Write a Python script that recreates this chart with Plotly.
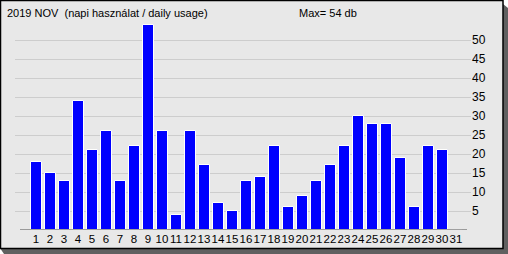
import plotly.graph_objects as go

days = list(range(1, 32))
usage = [18, 15, 13, 34, 21, 26, 13, 22, 54, 26, 4, 26, 17, 7, 5, 13, 14, 22, 6, 9,
         13, 17, 22, 30, 28, 28, 19, 6, 22, 21, 0]
y_ticks = [5, 10, 15, 20, 25, 30, 35, 40, 45, 50]
title_text = "2019 NOV\u00a0\u00a0(napi használat / daily usage)"
max_text = "Max= 54 db"

W, H = 508, 254
L, R, T, B = 15, 37, 20, 24
PW, PH = W - L - R, H - T - B

def px(x):
    return (x - L) / PW

def py(y):
    return (H - B - y) / PH

font = dict(family="Liberation Sans, Arial, sans-serif", size=12, color="#000000")
xfont = dict(family="Liberation Sans, Arial, sans-serif", size=11.5, color="#000000")
tfont = dict(family="Liberation Sans, Arial, sans-serif", size=11, color="#000000")

fig = go.Figure()
fig.add_trace(go.Bar(
    x=days, y=usage, width=11 / 14,
    marker=dict(color="#0000ff", line=dict(color="#ffffff", width=1)),
    hoverinfo="skip",
))

shapes = [
    # shadow
    dict(type="path", xref="paper", yref="paper", layer="below",
         path=f"M {px(503)} {py(4)} L {px(508)} {py(8)} L {px(508)} {py(254)} L {px(4)} {py(254)} L {px(0)} {py(248)} L {px(503)} {py(248)} Z",
         fillcolor="#606060", line=dict(width=0)),
    # panel
    dict(type="rect", xref="paper", yref="paper", layer="below",
         x0=px(0.5), x1=px(503), y0=py(0.5), y1=py(248.5),
         fillcolor="#e8e8e8", line=dict(color="#000000", width=1.5)),
    # baseline
    dict(type="line", xref="x", yref="y", layer="above",
         x0=1 - 16 / 14, x1=1 + 431 / 14, y0=0, y1=0,
         line=dict(color="#808080", width=1.5)),
]

fig.update_layout(
    width=W, height=H,
    margin=dict(l=L, r=R, t=T, b=B, pad=0, autoexpand=False),
    paper_bgcolor="#ffffff",
    plot_bgcolor="rgba(0,0,0,0)",
    showlegend=False,
    font=font,
    bargap=0,
    shapes=shapes,
    xaxis=dict(range=[1 - 21 / 14, 1 + 435 / 14], tickmode="array", tickvals=days,
               ticktext=[str(d) for d in days], showgrid=False, zeroline=False,
               showline=False, ticks="", tickfont=xfont, tickangle=0, automargin=False,
               fixedrange=True),
    yaxis=dict(range=[0, PH / 3.8], side="right", tickmode="array", tickvals=y_ticks,
               ticktext=[str(v) for v in y_ticks], showgrid=True, gridcolor="#cdcdcd",
               gridwidth=1, zeroline=False, showline=False, ticks="", tickfont=font,
               automargin=False, fixedrange=True),
    annotations=[
        dict(text=title_text, xref="paper", yref="paper", x=px(5), y=py(13),
             xanchor="left", yanchor="middle", showarrow=False, font=tfont),
        dict(text=max_text, xref="paper", yref="paper", x=px(328), y=py(13),
             xanchor="center", yanchor="middle", showarrow=False, font=tfont),
    ],
)

fig.write_html("out.html")
